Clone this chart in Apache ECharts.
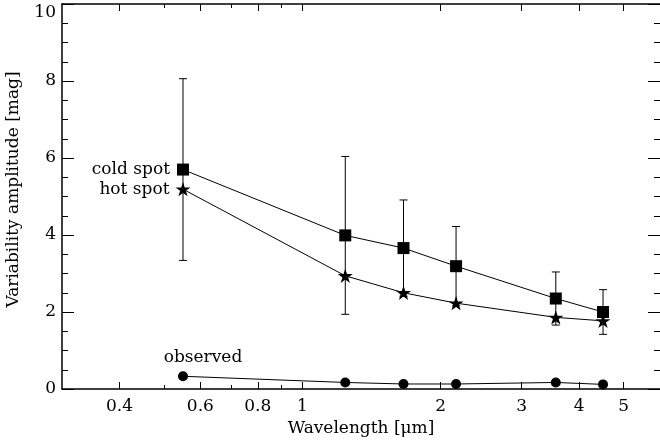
<!DOCTYPE html>
<html>
<head>
<meta charset="utf-8">
<script src="https://cdn.jsdelivr.net/npm/echarts@6/dist/echarts.min.js"></script>
<style>
html, body { margin: 0; padding: 0; background: #fff; }
#chart { width: 660px; height: 445px; }
</style>
</head>
<body>
<div id="chart"></div>
<script>
// wavelengths in micron
var wavelengths = [0.55, 1.24, 1.66, 2.16, 3.56, 4.51];
var coldSpot = [5.70, 3.99, 3.66, 3.19, 2.35, 2.00];
var coldErr = [2.36, 2.05, 1.25, 1.03, 0.69, 0.58];
var hotSpot = [5.19, 2.94, 2.50, 2.23, 1.86, 1.77];
var observed = [0.33, 0.17, 0.13, 0.13, 0.17, 0.12];
var xMajorTicks = [0.4, 0.6, 0.8, 1, 2, 3, 4, 5];
var xMinorTicks = [0.5, 0.7, 0.9];

var FONT = 'DejaVu Serif';
var FS = 17;
var STAR = 'path://M50,0 L61.2,34.5 L97.6,34.5 L68.2,55.9 L79.4,90.5 L50,69.1 L20.6,90.5 L31.8,55.9 L2.4,34.5 L38.8,34.5 Z';

function pairs (ys) {
  return wavelengths.map(function (w, i) { return [w, ys[i]] })
}

var errData = wavelengths.map(function (w, i) {
  return [w, coldSpot[i] - coldErr[i], coldSpot[i] + coldErr[i]]
})

function logX (pos, ticks, len, showLine, showLabel) {
  return {
    type: 'log',
    min: 0.3,
    max: 6,
    position: pos,
    axisLine: { show: showLine, onZero: false, lineStyle: { color: '#000', width: 1.5 } },
    axisTick: { show: true, inside: true, length: len, customValues: ticks, lineStyle: { color: '#000', width: 1 } },
    axisLabel: {
      show: showLabel,
      customValues: ticks,
      margin: 9,
      color: '#000',
      fontFamily: FONT,
      fontSize: FS,
      formatter: function (v) { return String(+(+v).toPrecision(3)) }
    },
    splitLine: { show: false },
    minorTick: { show: false }
  }
}

function linY (pos, showLine, showLabel) {
  return {
    type: 'value',
    min: 0,
    max: 10,
    interval: 2,
    position: pos,
    axisLine: { show: showLine, onZero: false, lineStyle: { color: '#000', width: 1.5 } },
    axisTick: { show: true, inside: true, length: 12, lineStyle: { color: '#000', width: 1 } },
    minorTick: { show: true, splitNumber: 4, length: 6, lineStyle: { color: '#000', width: 1 } },
    axisLabel: {
      show: showLabel,
      margin: 6,
      color: '#000',
      fontFamily: FONT,
      fontSize: FS,
      verticalAlignMaxLabel: 'top'
    },
    splitLine: { show: false },
    minorSplitLine: { show: false }
  }
}

var xBottom = logX('bottom', xMajorTicks, 7, true, true)
xBottom.name = 'Wavelength [μm]'
xBottom.nameLocation = 'middle'
xBottom.nameGap = 31
xBottom.nameTextStyle = { color: '#000', fontFamily: FONT, fontSize: FS }

var yLeft = linY('left', true, true)
yLeft.name = 'Variability amplitude [mag]'
yLeft.nameLocation = 'middle'
yLeft.nameGap = 40
yLeft.nameTextStyle = { color: '#000', fontFamily: FONT, fontSize: FS, padding: [0, 0, 0, 14] }

function lineSeries (name, ys, symbol, size, labelOpt) {
  return {
    name: name,
    type: 'line',
    data: pairs(ys),
    symbol: symbol,
    symbolSize: size,
    symbolKeepAspect: true,
    showAllSymbol: true,
    itemStyle: { color: '#000' },
    lineStyle: { color: '#000', width: 1 },
    z: 3,
    label: Object.assign({
      show: true,
      color: '#000',
      fontFamily: FONT,
      fontSize: FS,
      formatter: function (p) { return p.dataIndex === 0 ? name : '' }
    }, labelOpt)
  }
}

var chart = echarts.init(document.getElementById('chart'))
chart.setOption({
  animation: false,
  backgroundColor: '#fff',
  grid: { left: 62, right: 0, top: 4, bottom: 56, containLabel: false, outerBoundsMode: 'none' },
  xAxis: [
    xBottom,
    logX('bottom', xMinorTicks, 4, false, false),
    logX('top', xMajorTicks, 7, true, false),
    logX('top', xMinorTicks, 4, false, false)
  ],
  yAxis: [
    yLeft,
    linY('right', false, false)
  ],
  series: [
    {
      type: 'custom',
      name: 'err',
      data: errData,
      z: 2,
      renderItem: function (params, api) {
        var x = api.value(0)
        var lo = api.coord([x, api.value(1)])
        var hi = api.coord([x, api.value(2)])
        var cap = 4
        var st = { stroke: '#000', lineWidth: 1 }
        return {
          type: 'group',
          children: [
            { type: 'line', shape: { x1: lo[0], y1: lo[1], x2: hi[0], y2: hi[1] }, style: st },
            { type: 'line', shape: { x1: hi[0] - cap, y1: hi[1], x2: hi[0] + cap, y2: hi[1] }, style: st },
            { type: 'line', shape: { x1: lo[0] - cap, y1: lo[1], x2: lo[0] + cap, y2: lo[1] }, style: st }
          ]
        }
      }
    },
    lineSeries('cold spot', coldSpot, 'rect', 12, { position: 'left', distance: 7 }),
    lineSeries('hot spot', hotSpot, STAR, 15, { position: 'left', distance: 6 }),
    lineSeries('observed', observed, 'circle', 10, { position: 'top', distance: 5, offset: [20, 0] })
  ]
})
</script>
</body>
</html>
